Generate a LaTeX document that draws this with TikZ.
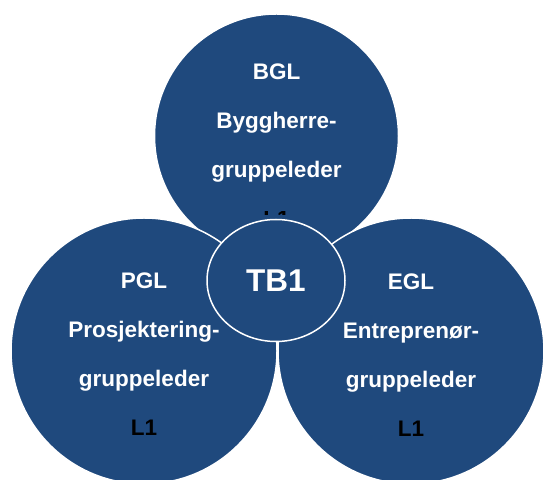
\documentclass[tikz,border=0pt]{standalone}
\usepackage{fontspec}
\setmainfont{Liberation Sans}
\usetikzlibrary{shapes.geometric,positioning}
\definecolor{tbblue}{HTML}{1F497D}
\tikzset{
  disc/.style={circle, fill=tbblue, draw=white, line width=1.5pt, inner sep=0pt},
  lbl/.style={text=white, font=\fontsize{22.5}{27}\selectfont\bfseries, inner sep=0pt, text height=16pt, text depth=5pt},
  lvl/.style={lbl, text=black},
}
\begin{document}
\begin{tikzpicture}[x=1pt, y=1pt, node distance=49pt]
    \useasboundingbox (0,0) rectangle (543,479);
    % byggherre
    \node[disc, minimum size=244pt] (bgldisc) at (276.5,343) {};
    \node[lbl] (bgl) at (276.5,404.5) {BGL};
    \node[lbl, below of=bgl] (bglrole) {Byggherre-};
    \node[lbl, below of=bglrole] (bglgrp) {gruppeleder};
    \begin{scope}
        \clip (250,264) rectangle (300,267.5);
        \node[lvl, below of=bglgrp] (bgllvl) {L1};
    \end{scope}
    % prosjektering and entreprenor
    \node[disc, minimum size=266pt] (pgldisc) at (144,128) {};
    \node[disc, minimum size=266pt] (egldisc) at (411,128) {};
    \node[lbl] (pgl) at (144,195.5) {PGL};
    \node[lbl, below of=pgl] (pglrole) {Prosjektering-};
    \node[lbl, below of=pglrole] (pglgrp) {gruppeleder};
    \node[lvl, below of=pglgrp] (pgllvl) {L1};
    \node[lbl] (egl) at (411,194.5) {EGL};
    \node[lbl, below of=egl] (eglrole) {Entreprenør-};
    \node[lbl, below of=eglrole] (eglgrp) {gruppeleder};
    \node[lvl, below of=eglgrp] (egllvl) {L1};
    % team
    \node[disc, ellipse, minimum width=138pt, minimum height=122pt, text=white,
          font=\fontsize{31.5}{36}\selectfont\bfseries] (tb) at (276,198.5) {TB1};
\end{tikzpicture}
\end{document}
